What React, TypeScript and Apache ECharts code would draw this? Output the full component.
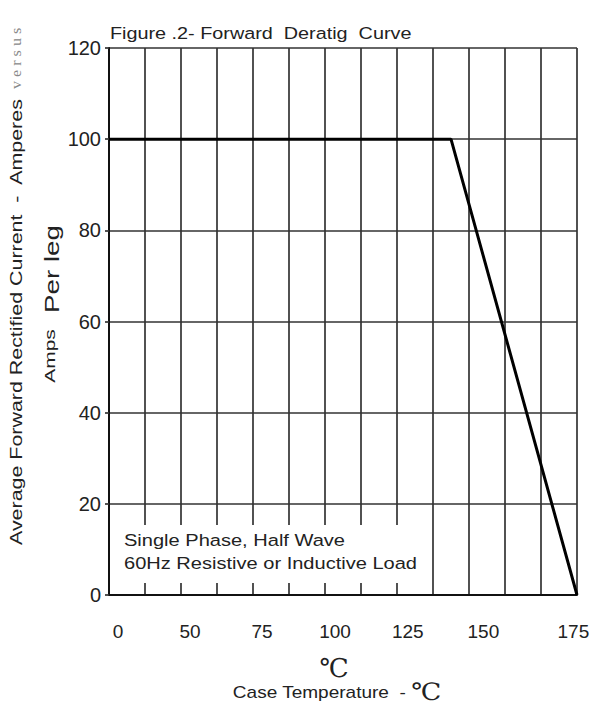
import React, { useEffect, useRef } from "react";
import * as echarts from "echarts";

// Grid is drawn in column units (13 equal columns); temperature labels sit at their printed positions.
const columnCount = 13;
const tempLabels = ["0", "50", "75", "100", "125", "150", "175"];
const tempLabelPos = [0.25, 2.25, 4.25, 6.28, 8.3, 10.4, 12.9];

// Derating curve: x in column units, y in amperes
const curveX = [0, 9.5, 13];
const curveAmps = [100, 100, 0];

const yTicks = [0, 20, 40, 60, 80, 100, 120];

const FONT = "Liberation Sans, Arial, Helvetica, sans-serif";
const SERIF = "Liberation Serif, DejaVu Serif, Times New Roman, serif";

export default function App() {
  const ref = useRef<HTMLDivElement>(null);
  useEffect(() => {
    document.body.style.margin = "0";
    const chart = echarts.init(ref.current!, null, { renderer: "svg" });
    const gridColor = "#333";
    chart.setOption({
      animation: false,
      backgroundColor: "#fff",
      grid: { left: 109, right: 18, top: 48, bottom: 110 },
      xAxis: [
        {
          type: "value",
          min: 0,
          max: columnCount,
          interval: 1,
          axisLine: { show: true, onZero: false, lineStyle: { color: "#111", width: 2 } },
          axisTick: { show: false },
          axisLabel: { show: false },
          splitLine: { show: true, lineStyle: { color: gridColor, width: 1.7 } },
        },
        {
          type: "value",
          min: 0,
          max: columnCount,
          position: "bottom",
          axisLine: { show: false },
          axisTick: { show: false },
          splitLine: { show: false },
          axisLabel: {
            show: true,
            customValues: tempLabelPos,
            margin: 27,
            fontSize: 19,
            color: "#222",
            fontFamily: FONT,
            formatter: (v: number) => {
              let best = 0;
              for (let i = 0; i < tempLabelPos.length; i++) {
                if (Math.abs(tempLabelPos[i] - v) < Math.abs(tempLabelPos[best] - v)) best = i;
              }
              return tempLabels[best];
            },
          },
        },
      ],
      yAxis: {
        type: "value",
        min: 0,
        max: 120,
        interval: 10,
        axisLine: { show: true, lineStyle: { color: "#111", width: 2 } },
        axisTick: { show: true, customValues: yTicks, length: 4, lineStyle: { color: gridColor, width: 1.7 } },
        axisLabel: {
          margin: 8,
          fontSize: 20,
          color: "#222",
          fontFamily: FONT,
          formatter: (v: number) => (yTicks.indexOf(v) >= 0 ? String(v) : ""),
        },
        splitLine: { show: true, lineStyle: { color: gridColor, width: 1.7 } },
      },
      series: [
        {
          type: "line",
          xAxisIndex: 0,
          data: curveX.map((x, i) => [x, curveAmps[i]]),
          symbol: "none",
          lineStyle: { color: "#000", width: 3 },
          z: 3,
        },
      ],
      graphic: [
        {
          type: "rect",
          z: 10,
          shape: { x: 119, y: 525, width: 313, height: 58 },
          style: { fill: "#fff" },
        },
        {
          type: "text",
          z: 11,
          x: 124,
          y: 540,
          scaleX: 1.18,
          style: { text: "Single Phase, Half Wave", fontSize: 17, fontFamily: FONT, fill: "#222", textVerticalAlign: "middle" },
        },
        {
          type: "text",
          z: 11,
          x: 124,
          y: 563,
          scaleX: 1.18,
          style: { text: "60Hz Resistive or Inductive Load", fontSize: 17, fontFamily: FONT, fill: "#222", textVerticalAlign: "middle" },
        },
        {
          type: "text",
          z: 11,
          x: 110,
          y: 34,
          scaleX: 1.2,
          style: { text: "Figure .2- Forward  Deratig  Curve", fontSize: 16.5, fontFamily: FONT, fill: "#222", textVerticalAlign: "middle" },
        },
        {
          type: "text",
          z: 11,
          x: 16,
          y: 545,
          rotation: Math.PI / 2,
          scaleX: 1.26,
          style: {
            text: "Average Forward Rectified Current  -  Amperes",
            fontSize: 17,
            fontFamily: FONT,
            fill: "#222",
            textAlign: "left",
            textVerticalAlign: "middle",
          },
        },
        {
          type: "text",
          z: 11,
          x: 16,
          y: 89,
          rotation: Math.PI / 2,
          scaleX: 1.15,
          style: {
            text: "v e r s u s",
            fontSize: 14,
            fontFamily: SERIF,
            fill: "#888",
            textAlign: "left",
            textVerticalAlign: "middle",
          },
        },
        {
          type: "text",
          z: 11,
          x: 52,
          y: 269,
          rotation: Math.PI / 2,
          scaleX: 1.32,
          style: { text: "Per leg", fontSize: 21, fontFamily: FONT, fill: "#222", textAlign: "center", textVerticalAlign: "middle" },
        },
        {
          type: "text",
          z: 11,
          x: 50,
          y: 356,
          rotation: Math.PI / 2,
          scaleX: 1.4,
          style: { text: "Amps", fontSize: 15, fontFamily: FONT, fill: "#222", textAlign: "center", textVerticalAlign: "middle" },
        },
        {
          type: "text",
          z: 11,
          x: 334,
          y: 668,
          style: { text: "℃", fontSize: 26, fontFamily: SERIF, fill: "#222", textAlign: "center", textVerticalAlign: "middle" },
        },
        {
          type: "text",
          z: 11,
          x: 337,
          y: 692,
          scaleX: 1.12,
          style: {
            text: "{a|Case Temperature  - }{b|℃}",
            textAlign: "center",
            textVerticalAlign: "middle",
            rich: {
              a: { fontSize: 17, fontFamily: FONT, fill: "#222" },
              b: { fontSize: 24, fontFamily: SERIF, fill: "#222" },
            },
          },
        },
      ],
    });
    return () => chart.dispose();
  }, []);
  return <div ref={ref} style={{ width: 595, height: 705 }} />;
}
